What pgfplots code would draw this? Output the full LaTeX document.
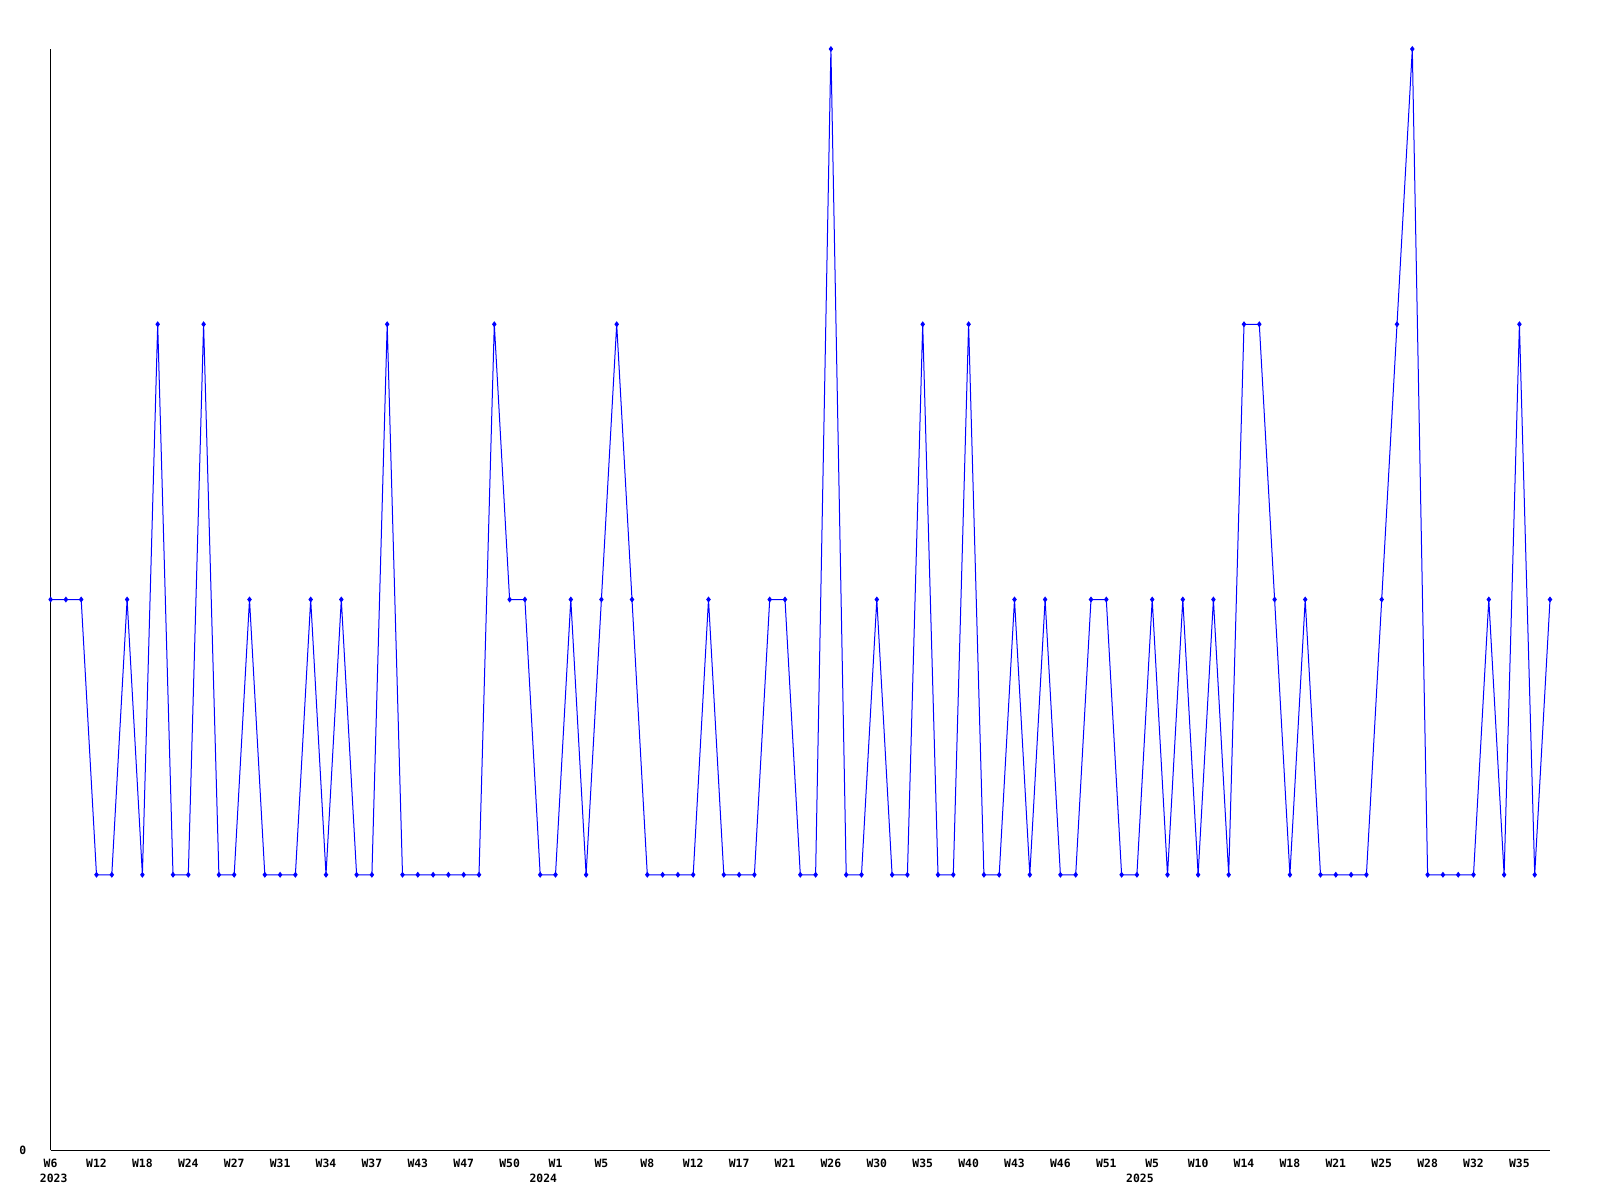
\documentclass[border=0pt]{standalone}
\usepackage{pgfplots}
\pgfplotsset{compat=1.18}
\usepackage{fontspec}
\setmonofont{DejaVu Sans Mono}
\newcommand{\tickf}{\fontsize{5.7}{6.5}\selectfont\ttfamily\bfseries}
\begin{document}
\begin{tikzpicture}
\useasboundingbox (0,0) rectangle (800pt,600pt);
\begin{axis}[
  at={(25.3pt,25pt)}, anchor=south west,
  scale only axis, width=749.7pt, height=550.5pt,
  xmin=0, xmax=98, ymin=0, ymax=4,
  axis x line=bottom, axis y line=left,
  axis line style={-, black, line width=0.5pt},
  xtick={0,3,6,9,12,15,18,21,24,27,30,33,36,39,42,45,48,51,54,57,60,63,66,69,72,75,78,81,84,87,90,93,96},
  xticklabels={W6,W12,W18,W24,W27,W31,W34,W37,W43,W47,W50,W1,W5,W8,W12,W17,W21,W26,W30,W35,W40,W43,W46,W51,W5,W10,W14,W18,W21,W25,W28,W32,W35},
  ytick={0}, yticklabels={0},
  major tick length=0pt,
  tick label style={font=\tickf},
  xticklabel style={anchor=north, inner sep=0pt, yshift=-4.2pt},
  yticklabel style={anchor=east, inner sep=0pt, xshift=-12pt, yshift=0pt},
  clip=false,
]
\addplot[color={rgb,255:red,0;green,0;blue,255}, line width=0.5pt, mark=diamond*, mark size=1.1pt] table {
x y
0 2
1 2
2 2
3 1
4 1
5 2
6 1
7 3
8 1
9 1
10 3
11 1
12 1
13 2
14 1
15 1
16 1
17 2
18 1
19 2
20 1
21 1
22 3
23 1
24 1
25 1
26 1
27 1
28 1
29 3
30 2
31 2
32 1
33 1
34 2
35 1
36 2
37 3
38 2
39 1
40 1
41 1
42 1
43 2
44 1
45 1
46 1
47 2
48 2
49 1
50 1
51 4
52 1
53 1
54 2
55 1
56 1
57 3
58 1
59 1
60 3
61 1
62 1
63 2
64 1
65 2
66 1
67 1
68 2
69 2
70 1
71 1
72 2
73 1
74 2
75 1
76 2
77 1
78 3
79 3
80 2
81 1
82 2
83 1
84 1
85 1
86 1
87 2
88 3
89 4
90 1
91 1
92 1
93 1
94 2
95 1
96 3
97 1
98 2
};
\node[anchor=north, inner sep=0pt, yshift=-12pt, font=\tickf] at (axis cs:0.2,0) {2023};
\node[anchor=north, inner sep=0pt, yshift=-12pt, font=\tickf] at (axis cs:32.2,0) {2024};
\node[anchor=north, inner sep=0pt, yshift=-12pt, font=\tickf] at (axis cs:71.2,0) {2025};
\end{axis}
\end{tikzpicture}
\end{document}
